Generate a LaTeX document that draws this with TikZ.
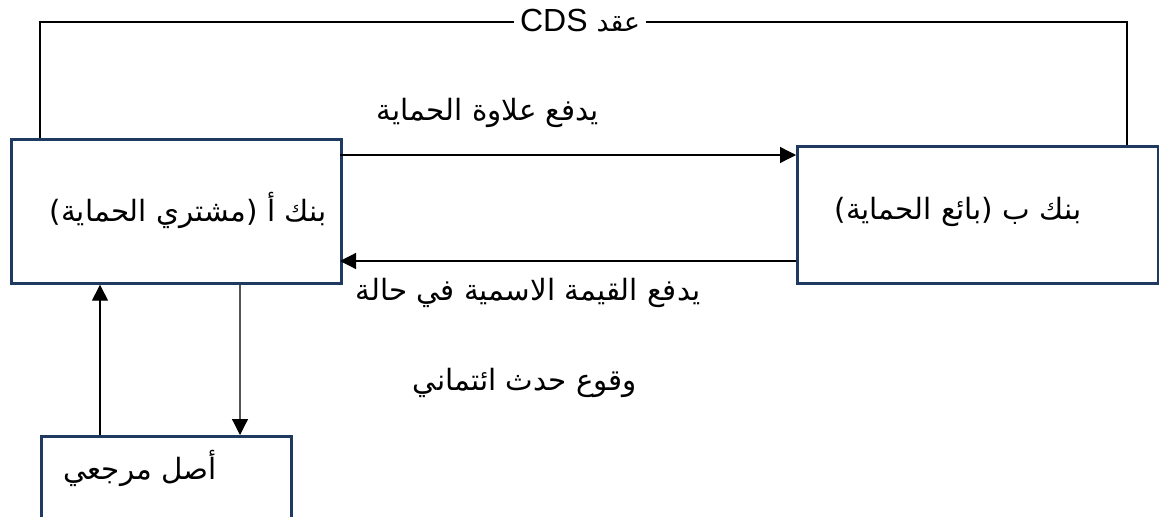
\documentclass[tikz,border=0pt]{standalone}
\usepackage{fontspec}
\setmainfont{Liberation Sans}
\newfontfamily\arabicfont[Script=Arabic]{DejaVu Sans}
\TeXXeTstate=1
\usetikzlibrary{arrows.meta}
\definecolor{boxblue}{HTML}{1F3A60}
\definecolor{linegray}{HTML}{555555}
\tikzset{
  box/.style={draw=boxblue, line width=2pt, fill=none, inner sep=0pt, anchor=north west},
  conn/.style={draw=black, line width=0.9pt},
  arr/.style={conn, -{Triangle[length=12pt,width=12pt]}},
  lbl/.style={inner sep=1pt, font=\fontsize{22}{26}\selectfont\arabicfont},
  latinlbl/.style={inner sep=1pt, font=\fontsize{24}{28}\selectfont},
}
\begin{document}
\begin{tikzpicture}[x=0.75pt,y=-0.75pt]
\useasboundingbox (0,0) rectangle (1159,517);
\clip (0,0) rectangle (1159,517);
% boxes
\node[box, minimum width=330*0.75pt, minimum height=144*0.75pt] (A) at (10,138) {};
\node[box, minimum width=361*0.75pt, minimum height=137*0.75pt] (B) at (796,145) {};
\node[box, minimum width=250*0.75pt, minimum height=120*0.75pt] (C) at (40,435) {};
% box texts
\node[lbl] (tA) at (188,210) {\beginR بنك أ (مشتري الحماية)\endR};
\node[lbl] (tB) at (958,212) {\beginR بنك ب  (بائع الحماية)\endR};
\node[lbl] (tC) at (140,468) {\beginR أصل مرجعي\endR};
% top loop
\coordinate (a1) at (40,138);
\coordinate (a2) at (40,22);
\coordinate (b2) at (1127,22);
\coordinate (b1) at (1127,145);
\node[latinlbl, fill=white, inner xsep=4pt] (cds) at (580,21) {\beginR{\fontsize{20}{24}\selectfont\arabicfont عقد}\ \beginL CDS\endL\endR};
\draw[conn] (a1) -- (a2) -- (a2 -| cds.west);
\draw[conn] (b2 -| cds.east) -- (b2) -- (b1);
% horizontal arrows
\coordinate (p1) at (340,155);
\coordinate (p2) at (796,155);
\draw[arr] (p1) -- (p2);
\node[lbl] (l1) at (488,113) {\beginR يدفع علاوة الحماية\endR};
\coordinate (q1) at (796,261);
\coordinate (q2) at (340,261);
\draw[arr] (q1) -- (q2);
\node[lbl] (l2) at (528,293) {\beginR يدفع القيمة الاسمية في حالة\endR};
\node[lbl] (l3) at (525,383) {\beginR وقوع حدث ائتماني\endR};
% vertical arrows
\draw[arr] (C.north west -| 100,0) -- (A.south west -| 100,0);
\draw[arr, draw=linegray, -{Triangle[length=12pt,width=12pt,color=black]}] (A.south west -| 240,0) -- (C.north west -| 240,0);
\end{tikzpicture}
\end{document}
